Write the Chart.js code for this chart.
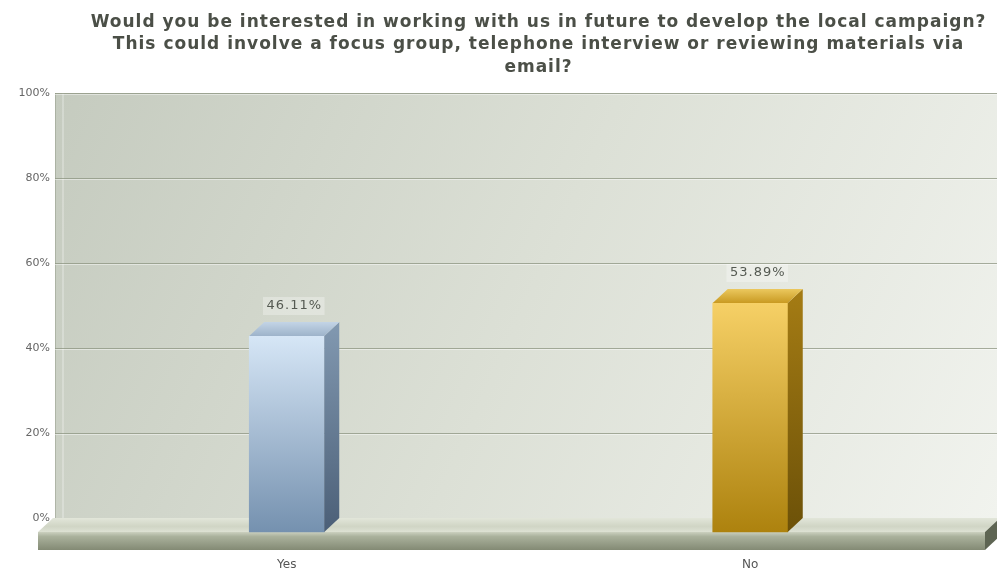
<!DOCTYPE html>
<html>
<head>
<meta charset="utf-8">
<script src="https://cdn.jsdelivr.net/npm/chart.js@4.4.1/dist/chart.umd.min.js"></script>
<style>
  html, body { margin: 0; padding: 0; background: #ffffff; }
  #wrap { width: 997px; height: 574px; }
</style>
</head>
<body>
<div id="wrap"><canvas id="c" width="997" height="574"></canvas></div>
<script>
// ---- data ----
const titleLines = [
  'Would you be interested in working with us in future to develop the local campaign?',
  'This could involve a focus group, telephone interview or reviewing materials via',
  'email?'
];
const categories = ['Yes', 'No'];
const percentages = [46.11, 53.89];
const yTickValues = [0, 20, 40, 60, 80, 100];

// ---- styles ----
const DX = 15, DY = 14;
const TITLE_SHIFT_X = 5;
const palettes = [
  { frontTop: '#d6e6f6', frontBot: '#7591af', sideTop: '#8299b1', sideBot: '#4b5f77', topA: '#c3d4e6', topB: '#9db3ca' },
  { frontTop: '#f6d066', frontBot: '#ad820e', sideTop: '#a57c14', sideBot: '#6c5108', topA: '#ebc85e', topB: '#c99a22' }
];

function frontGradient(context) {
  const chart = context.chart;
  const p = palettes[(context.dataIndex || 0) % palettes.length];
  const ys = chart.scales && chart.scales.y;
  if (!ys || !context.parsed) return p.frontTop;
  const top = ys.getPixelForValue(context.parsed.y);
  const base = ys.getPixelForValue(0);
  if (!isFinite(top) || !isFinite(base) || top === base) return p.frontTop;
  const g = chart.ctx.createLinearGradient(0, top, 0, base);
  g.addColorStop(0, p.frontTop);
  g.addColorStop(1, p.frontBot);
  return g;
}

const scene3d = {
  id: 'scene3d',
  afterLayout(chart) {
    const tb = chart.titleBlock;
    if (tb && !tb._wrapped) {
      const orig = tb.draw;
      tb.draw = function () {
        const ctx = chart.ctx;
        ctx.save();
        ctx.letterSpacing = '1px';
        ctx.translate(TITLE_SHIFT_X, 0);
        orig.apply(this, arguments);
        ctx.restore();
      };
      tb._wrapped = true;
    }
  },
  beforeDraw(chart) {
    const { ctx, chartArea: a, scales: { y } } = chart;
    const W = chart.width;
    const base = y.getPixelForValue(0);
    const wallL = a.left - DX;
    ctx.save();
    // back wall
    const wg = ctx.createLinearGradient(wallL, a.top, W, base);
    wg.addColorStop(0, '#c5cbbf');
    wg.addColorStop(0.5, '#dce0d6');
    wg.addColorStop(1, '#f1f3ee');
    ctx.fillStyle = wg;
    ctx.fillRect(wallL, a.top, W - wallL, base - a.top);
    // wall edge details
    ctx.fillStyle = 'rgba(255,255,255,0.25)';
    ctx.fillRect(wallL + 7, a.top, 2, base - a.top);
    ctx.fillStyle = 'rgba(120,128,110,0.35)';
    ctx.fillRect(wallL, a.top, 1, base - a.top);
    // grid lines
    for (const v of yTickValues) {
      if (v === 0) continue;
      const py = Math.round(y.getPixelForValue(v));
      ctx.fillStyle = 'rgba(140,148,128,0.75)';
      ctx.fillRect(wallL, py, W - wallL, 1);
      ctx.fillStyle = 'rgba(255,255,255,0.45)';
      ctx.fillRect(wallL, py + 1, W - wallL, 1);
    }
    // floor top surface
    const fl = wallL - 17, fr = a.right - 12;
    const tg = ctx.createLinearGradient(0, base, 0, base + DY);
    tg.addColorStop(0, '#e2e6da');
    tg.addColorStop(0.6, '#d0d5c5');
    tg.addColorStop(1, '#dde1d3');
    ctx.fillStyle = tg;
    ctx.beginPath();
    ctx.moveTo(fl + DX, base);
    ctx.lineTo(fr + DX, base);
    ctx.lineTo(fr, base + DY);
    ctx.lineTo(fl, base + DY);
    ctx.closePath();
    ctx.fill();
    // floor front slab
    const SH = 18;
    const sg = ctx.createLinearGradient(0, base + DY, 0, base + DY + SH);
    sg.addColorStop(0, '#cbd0bf');
    sg.addColorStop(0.25, '#aab19c');
    sg.addColorStop(1, '#838a74');
    ctx.fillStyle = sg;
    ctx.fillRect(fl, base + DY, fr - fl, SH);
    // floor right end
    ctx.fillStyle = '#5e6553';
    ctx.beginPath();
    ctx.moveTo(fr, base + DY);
    ctx.lineTo(fr + DX, base);
    ctx.lineTo(fr + DX, base + SH);
    ctx.lineTo(fr, base + DY + SH);
    ctx.closePath();
    ctx.fill();
    ctx.restore();
  },
  beforeDatasetDraw(chart) {
    chart.ctx.save();
    chart.ctx.translate(-DX, DY);
  },
  afterDatasetDraw(chart, args) {
    const ctx = chart.ctx;
    ctx.restore();
    const meta = args.meta;
    meta.data.forEach((el, i) => {
      const p = palettes[i % palettes.length];
      const { x, y, base, width } = el.getProps(['x', 'y', 'base', 'width'], true);
      const bl = x - width / 2, br = x + width / 2;
      ctx.save();
      // side face
      const sg = ctx.createLinearGradient(0, y, 0, base + DY);
      sg.addColorStop(0, p.sideTop);
      sg.addColorStop(1, p.sideBot);
      ctx.fillStyle = sg;
      ctx.beginPath();
      ctx.moveTo(br - DX, y + DY);
      ctx.lineTo(br, y);
      ctx.lineTo(br, base);
      ctx.lineTo(br - DX, base + DY);
      ctx.closePath();
      ctx.fill();
      // top face
      const tg = ctx.createLinearGradient(0, y, 0, y + DY);
      tg.addColorStop(0, p.topA);
      tg.addColorStop(1, p.topB);
      ctx.fillStyle = tg;
      ctx.beginPath();
      ctx.moveTo(bl - DX, y + DY);
      ctx.lineTo(bl, y);
      ctx.lineTo(br, y);
      ctx.lineTo(br - DX, y + DY);
      ctx.closePath();
      ctx.fill();
      ctx.restore();
    });
  },
  afterDatasetsDraw(chart) {
    const ctx = chart.ctx;
    const meta = chart.getDatasetMeta(0);
    ctx.save();
    ctx.font = '13px "DejaVu Sans"';
    ctx.letterSpacing = '1px';
    ctx.textAlign = 'center';
    ctx.textBaseline = 'middle';
    meta.data.forEach((el, i) => {
      const txt = percentages[i].toFixed(2) + '%';
      const tx = el.x - 8, ty = el.y - 16;
      const w = ctx.measureText(txt).width;
      ctx.fillStyle = 'rgba(255,255,255,0.3)';
      ctx.fillRect(tx - w / 2 - 3, ty - 9, w + 6, 18);
      ctx.fillStyle = '#555a52';
      ctx.fillText(txt, tx + 0.5, ty);
    });
    ctx.restore();
  }
};

new Chart(document.getElementById('c'), {
  type: 'bar',
  data: {
    labels: categories,
    datasets: [{
      data: percentages,
      backgroundColor: frontGradient,
      borderWidth: 0,
      barThickness: 75,
      clip: false
    }]
  },
  options: {
    responsive: false,
    animation: false,
    devicePixelRatio: 1,
    layout: { padding: { left: 0, right: 0, top: 0, bottom: 0 } },
    plugins: {
      legend: { display: false },
      tooltip: { enabled: false },
      title: {
        display: true,
        fullSize: false,
        text: titleLines,
        color: '#4b4f47',
        font: { family: '"DejaVu Sans"', size: 17, weight: 'bold', lineHeight: 22.5 / 17 },
        padding: { top: 11, bottom: 14.5 }
      }
    },
    scales: {
      x: {
        grid: { display: false, drawTicks: false },
        border: { display: false },
        ticks: { color: '#555', font: { family: '"DejaVu Sans"', size: 12 }, padding: 40, labelOffset: -DX },
        afterFit(s) { s.height = 56; }
      },
      y: {
        min: 0, max: 100,
        grid: { display: false, drawTicks: false },
        border: { display: false },
        ticks: {
          stepSize: 20,
          color: '#666',
          padding: 20,
          font: { family: '"DejaVu Sans"', size: 11 },
          callback: (v) => v + '%'
        },
        afterFit(s) { s.width = 70; }
      }
    }
  },
  plugins: [scene3d]
});
</script>
</body>
</html>
